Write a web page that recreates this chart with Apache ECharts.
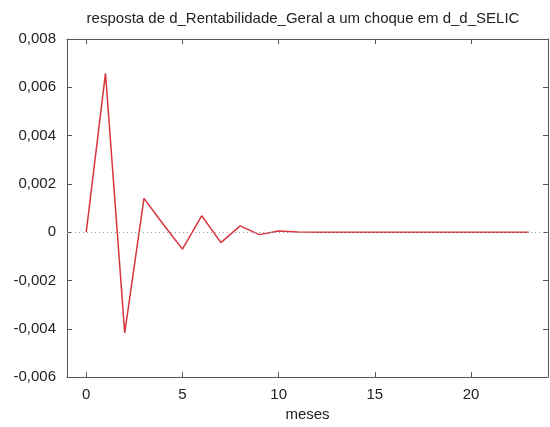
<!DOCTYPE html>
<html>
<head>
<meta charset="utf-8">
<script src="https://cdn.jsdelivr.net/npm/echarts@6/dist/echarts.min.js"></script>
<style>
html,body{margin:0;padding:0;background:#fff;}
#chart{width:550px;height:427px;}
</style>
</head>
<body>
<div id="chart"></div>
<script>
// Impulse response over 24 months
var meses = [0,1,2,3,4,5,6,7,8,9,10,11,12,13,14,15,16,17,18,19,20,21,22,23];
var resposta = [0, 0.00658, -0.00417, 0.00140, 0.00033, -0.00070, 0.00068, -0.00043, 0.00026, -0.00010,
  0.00005, 0.00001, 0, 0, 0, 0, 0, 0, 0, 0, 0, 0, 0, 0];
var xTicks = [0, 5, 10, 15, 20];
var yTicks = [-0.006, -0.004, -0.002, 0, 0.002, 0.004, 0.006, 0.008];

var FONT = '"Liberation Sans", Arial, sans-serif';
var AXIS = '#555';

function fmtY(v) {
  if (Math.abs(v) < 1e-9) return '0';
  return v.toFixed(3).replace('.', ',');
}

var chart = echarts.init(document.getElementById('chart'));
var pts = meses.map(function (m, i) { return [m, resposta[i]]; });

function xAxisDef(pos, withLabels) {
  return {
    type: 'value', min: -1, max: 24, position: pos,
    axisLine: { show: true, onZero: false, lineStyle: { color: AXIS, width: 1 } },
    axisTick: { show: true, inside: true, length: 5, lineStyle: { color: AXIS }, customValues: xTicks },
    axisLabel: withLabels ? {
      fontFamily: FONT, fontSize: 15, color: '#222', margin: 10, customValues: xTicks
    } : { show: false },
    splitLine: { show: false }
  };
}
function yAxisDef(pos, withLabels) {
  return {
    type: 'value', min: -0.006, max: 0.008, interval: 0.002, position: pos,
    axisLine: { show: true, onZero: false, lineStyle: { color: AXIS, width: 1 } },
    axisTick: { show: true, inside: true, length: 5, lineStyle: { color: AXIS }, customValues: yTicks },
    axisLabel: withLabels ? {
      fontFamily: FONT, fontSize: 15, color: '#222', margin: 11, formatter: fmtY, customValues: yTicks
    } : { show: false },
    splitLine: { show: false }
  };
}

var xb = xAxisDef('bottom', true);
xb.name = 'meses';
xb.nameLocation = 'middle';
xb.nameGap = 29;
xb.nameTextStyle = { fontFamily: FONT, fontSize: 15, color: '#222' };

chart.setOption({
  backgroundColor: '#fff',
  animation: false,
  title: {
    text: 'resposta de d_Rentabilidade_Geral a um choque em d_d_SELIC',
    left: 298, top: 6, textAlign: 'center',
    textStyle: { fontFamily: FONT, fontSize: 15, fontWeight: 'normal', color: '#222' }
  },
  grid: { left: 67, right: 2, top: 39, bottom: 49 },
  xAxis: [xb, xAxisDef('top', false)],
  yAxis: [yAxisDef('left', true), yAxisDef('right', false)],
  series: [{
    type: 'line',
    data: pts,
    showSymbol: false,
    lineStyle: { color: '#d8363c', width: 1.5 },
    markLine: {
      silent: true, symbol: 'none', label: { show: false },
      lineStyle: { color: '#999', type: [1, 3], width: 1 },
      data: [[{ coord: [-1, 0] }, { coord: [24, 0] }]]
    },
    z: 3
  }]
});
</script>
</body>
</html>
